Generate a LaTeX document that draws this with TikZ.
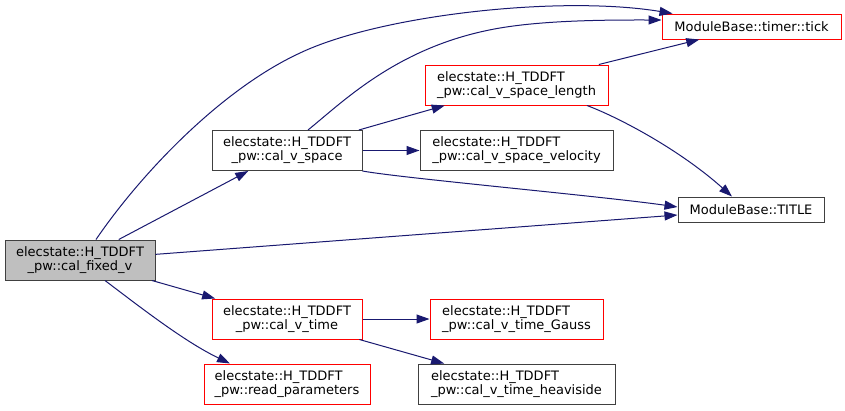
\documentclass[tikz,border=0pt]{standalone}
\usepackage{fontspec}
\setmainfont{DejaVu Sans}
\usetikzlibrary{arrows.meta}
\definecolor{edgeblue}{HTML}{191970}
\definecolor{boxred}{HTML}{FF0000}
\definecolor{boxgray}{HTML}{404040}
\definecolor{mainfill}{HTML}{BFBFBF}
\begin{document}
\begin{tikzpicture}[x=1pt,y=-1pt,
  box/.style={draw=boxgray, line width=1pt, inner sep=0pt, font=\fontsize{13}{14}\selectfont, text=black, minimum height=40pt},
  redbox/.style={box, draw=boxred},
  onebox/.style={minimum height=25pt},
  edge/.style={draw=edgeblue, line width=1pt, -{Triangle[length=13pt,width=9pt]}}]
\fill[white] (0,0) rectangle (845,410);
\useasboundingbox (0,0) rectangle (845,410);

\node[box, fill=mainfill, minimum width=150pt, align=center] (main) at (80,260) {elecstate::H\_TDDFT\\\_pw::cal\_fixed\_v};
\node[box, minimum width=150pt, align=center] (vspace) at (287,150.5) {elecstate::H\_TDDFT\\\_pw::cal\_v\_space};
\node[redbox, minimum width=150pt, align=center] (vtime) at (287,319) {elecstate::H\_TDDFT\\\_pw::cal\_v\_time};
\node[redbox, minimum width=166pt, align=left] (readp) at (287,384) {elecstate::H\_TDDFT\\\_pw::read\_parameters};
\node[redbox, onebox, minimum width=179pt] (tick) at (751.5,26.5) {ModuleBase::timer::tick};
\node[redbox, minimum width=183pt, align=left] (length) at (516.5,85) {elecstate::H\_TDDFT\\\_pw::cal\_v\_space\_length};
\node[box, minimum width=193pt, align=left] (velocity) at (516.5,150.5) {elecstate::H\_TDDFT\\\_pw::cal\_v\_space\_velocity};
\node[box, onebox, minimum width=146pt] (title) at (751,209.5) {ModuleBase::TITLE};
\node[redbox, minimum width=173pt, align=left] (gauss) at (516.5,319) {elecstate::H\_TDDFT\\\_pw::cal\_v\_time\_Gauss};
\node[box, minimum width=197pt, align=left] (heavi) at (516.5,384) {elecstate::H\_TDDFT\\\_pw::cal\_v\_time\_heaviside};

\draw[edge] (main) -- (vspace);
\draw[edge] ([xshift=16pt]main.north) .. controls (140,175) and (220,90) .. (300,53) .. controls (380,15) and (560,-5) .. ([xshift=11pt]tick.north west);
\draw[edge] ([xshift=21pt]vspace.north) .. controls (345,100) and (400,45) .. (500,28) .. controls (550,19.5) and (620,20) .. ([yshift=6.5pt]tick.west);
\draw[edge] (vspace) -- (length);
\draw[edge] (vspace) -- (velocity);
\draw[edge] (vspace.south east) .. controls (400,178) and (600,196) .. ([yshift=2.5pt]title.west);
\draw[edge] (main) -- (title);
\draw[edge] (length) -- (tick);
\draw[edge] ([xshift=70.5pt]length.south) .. controls (620,118) and (680,150) .. ([xshift=-19pt]title.north);
\draw[edge] (main) -- (vtime);
\draw[edge] ([xshift=25pt]main.south) .. controls (140,307) and (185,342) .. ([xshift=-57pt]readp.north);
\draw[edge] (vtime) -- (gauss);
\draw[edge] (vtime) -- (heavi);
\end{tikzpicture}
\end{document}
